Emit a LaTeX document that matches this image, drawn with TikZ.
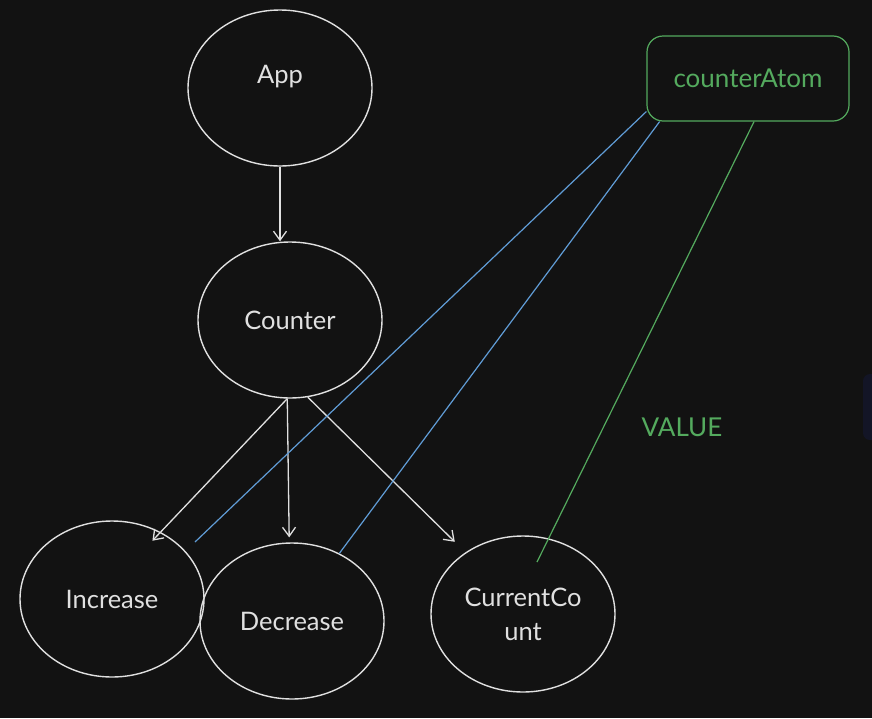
\documentclass[tikz,border=0pt]{standalone}
\usepackage{fontspec}
\setmainfont{Lato}
\usetikzlibrary{shapes.geometric,arrows.meta}
\definecolor{bg}{RGB}{18,18,18}
\definecolor{ink}{RGB}{224,224,224}
\definecolor{atomgreen}{RGB}{84,170,94}
\definecolor{linkblue}{RGB}{96,156,214}
\definecolor{faintblue}{RGB}{19,21,38}
\tikzset{
  ell/.style={ellipse, draw=ink, line width=1.4pt, minimum width=184pt, minimum height=156pt, inner sep=0pt, text=ink, font=\fontsize{25.5}{34}\selectfont, align=center},
  atombox/.style={draw=atomgreen, line width=1.2pt, rounded corners=16pt, minimum width=202pt, minimum height=85pt, inner sep=0pt, text=atomgreen, font=\fontsize{26}{30}\selectfont},
  flow/.style={draw=ink, line width=1.3pt, -{Straight Barb[length=9pt,width=13pt,line width=1.3pt]}},
  bluelink/.style={draw=linkblue, line width=1.2pt},
  greenlink/.style={draw=atomgreen, line width=1.2pt},
  lbl/.style={text=atomgreen, font=\fontsize{26}{30}\selectfont, inner sep=0pt}
}
\begin{document}
\begin{tikzpicture}[x=1pt,y=-1pt]
\fill[bg] (0,0) rectangle (872,718);
\useasboundingbox (0,0) rectangle (872,718);
\fill[faintblue, rounded corners=7pt] (863,374) rectangle (890,440);

\node[ell, label={[text=ink, font=\fontsize{25.5}{30}\selectfont, yshift=11pt]center:App}] (app) at (280,88) {};
\node[ell] (counter) at (290,320) {Counter};
\node[ell] (increase) at (112,599) {Increase};
\node[ell] (decrease) at (292,621) {Decrease};
\node[ell] (current) at (523,614) {CurrentCo\\unt};
\node[atombox] (atom) at (748,78.5) {counterAtom};
\node[lbl] (value) at (682,427) {VALUE};

\coordinate (incfree) at (195,542);
\coordinate (curfree) at (537,562);

\draw[flow] (app.south) -- (app.south |- counter.north);
\draw[flow, shorten >=-12pt] (counter.-92) -- (increase.54);
\draw[flow, shorten >=5pt] (counter.-92) -- (decrease.92);
\draw[flow, shorten >=15pt] (counter.-77) -- (current.133);

\draw[bluelink] (atom.198.9) -- (incfree);
\draw[bluelink] (atom.206.6) -- (decrease.55);
\draw[greenlink] (atom.-82) -- (curfree);
\end{tikzpicture}
\end{document}
